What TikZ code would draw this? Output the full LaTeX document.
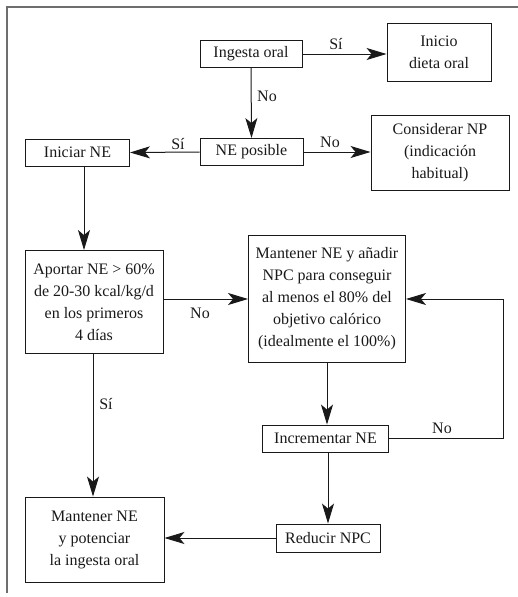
\documentclass[tikz,border=0pt]{standalone}
\usepackage{fontspec}
\setmainfont{Liberation Serif}
\usetikzlibrary{arrows.meta,calc}
\definecolor{ink}{RGB}{25,25,25}
\definecolor{framegray}{RGB}{110,110,110}
\tikzset{
  box/.style={draw=ink, line width=0.9pt, inner sep=0pt, align=center, text=ink,
    font=\fontsize{16}{22}\selectfont},
  conn/.style={draw=ink, line width=1pt, -{Stealth[length=20pt,width=12pt,inset=5pt]}},
  lbl/.style={text=ink, font=\fontsize{16}{20}\selectfont, inner sep=0pt}
}
\begin{document}
\begin{tikzpicture}[x=1pt,y=-1pt]
\useasboundingbox (0,0) rectangle (518,597);
\draw[framegray, line width=1.6pt] (518,7) -- (7,7) -- (7,593);

\node[box, minimum width=102, minimum height=27] (ingesta) at (251,54) {Ingesta oral};
\node[box, minimum width=104, minimum height=58] (inicio) at (439,52) {Inicio\\dieta oral};
\node[box, minimum width=103, minimum height=27] (neposible) at (251.5,152) {NE posible};
\node[box, minimum width=104, minimum height=27] (iniciar) at (77.5,152.5) {Iniciar NE};
\node[box, minimum width=138, minimum height=75] (considerar) at (440,153) {Considerar NP\\(indicación\\habitual)};
\node[box, minimum width=138, minimum height=103] (aportar) at (94,302) {Aportar NE > 60\%\\de 20-30 kcal/kg/d\\en los primeros\\4 días};
\node[box, minimum width=157, minimum height=127] (mantener) at (327,299) {Mantener NE y añadir\\NPC para conseguir\\al menos el 80\% del\\objetivo calórico\\(idealmente el 100\%)};
\node[box, minimum width=126, minimum height=27] (incrementar) at (325.5,438.5) {Incrementar NE};
\node[box, minimum width=104, minimum height=28] (reducir) at (328,538) {Reducir NPC};
\node[box, minimum width=139, minimum height=85] (potenciar) at (94.5,539.5) {Mantener NE\\y potenciar\\la ingesta oral};

\coordinate (loopA) at (503,438.5);
\coordinate (loopB) at (503,299);

\draw[conn] (ingesta.east) -- (ingesta.east -| inicio.west);
\node[lbl] (l1) at (336,44) {Sí};
\draw[conn] (ingesta.south) -- (neposible.north);
\node[lbl] (l2) at (267,96) {No};
\draw[conn] (neposible.west) -- (iniciar.east);
\node[lbl] (l3) at (178,144) {Sí};
\draw[conn] (neposible.east) -- (neposible.east -| considerar.west);
\node[lbl] (l4) at (330,142) {No};
\draw[conn] ([xshift=6.5pt]iniciar.south) -- ([xshift=6.5pt]iniciar.south |- aportar.north);
\draw[conn] (aportar.east |- mantener.west) -- (mantener.west);
\node[lbl] (l5) at (200,313) {No};
\draw[conn] ([xshift=-1pt]aportar.south) -- ([xshift=-1pt]aportar.south |- potenciar.north);
\node[lbl] (l6) at (106,404) {Sí};
\draw[conn] (mantener.south) -- (mantener.south |- incrementar.north);
\draw[conn] (incrementar.east) -- (loopA) -- (loopB) -- (mantener.east);
\node[lbl] (l7) at (442,428) {No};
\draw[conn] (incrementar.south -| reducir.north) -- (reducir.north);
\draw[conn] (reducir.west) -- (reducir.west -| potenciar.east);
\end{tikzpicture}
\end{document}
